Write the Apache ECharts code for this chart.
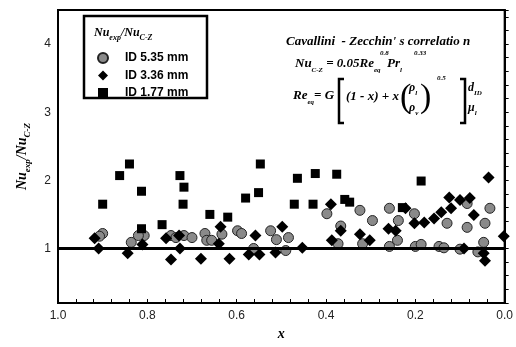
<!DOCTYPE html>
<html>
<head>
<meta charset="utf-8">
<script src="https://cdn.jsdelivr.net/npm/echarts@6/dist/echarts.min.js"></script>
<style>
html, body { margin: 0; padding: 0; background: #fff; }
#chart { width: 516px; height: 347px; }
</style>
</head>
<body>
<div id="chart"></div>
<script>
// vapour quality x vs Nu_exp / Nu_C-Z
const seriesNames = ['ID 5.35 mm', 'ID 3.36 mm', 'ID 1.77 mm'];

const circleData = [
  [0.90, 1.22], [0.907, 1.18], [0.836, 1.09], [0.807, 1.19], [0.82, 1.19], [0.747, 1.19],
  [0.736, 1.16], [0.718, 1.19], [0.70, 1.16], [0.671, 1.22], [0.667, 1.12], [0.656, 1.12],
  [0.633, 1.21], [0.598, 1.26], [0.589, 1.22], [0.562, 1.00], [0.524, 1.26], [0.511, 1.13],
  [0.49, 0.97], [0.484, 1.16], [0.398, 1.51], [0.367, 1.33], [0.373, 1.07], [0.324, 1.56],
  [0.318, 1.07], [0.296, 1.41], [0.258, 1.59], [0.258, 1.03], [0.24, 1.12], [0.238, 1.41],
  [0.202, 1.51], [0.20, 1.03], [0.187, 1.06], [0.147, 1.03], [0.136, 1.01], [0.129, 1.37],
  [0.10, 0.99], [0.084, 1.31], [0.084, 1.66], [0.06, 0.95], [0.047, 1.09], [0.044, 1.37],
  [0.033, 1.59]
];

const diamondData = [
  [0.918, 1.15], [0.909, 1.00], [0.844, 0.93], [0.811, 1.06], [0.758, 1.15], [0.727, 1.00],
  [0.747, 0.84], [0.729, 1.19], [0.68, 0.85], [0.636, 1.32], [0.64, 1.07], [0.616, 0.85],
  [0.558, 1.19], [0.573, 0.91], [0.549, 0.91], [0.513, 0.94], [0.498, 1.32], [0.453, 1.01],
  [0.389, 1.65], [0.367, 1.26], [0.387, 1.12], [0.324, 1.21], [0.302, 1.12], [0.26, 1.29],
  [0.244, 1.26], [0.222, 1.59], [0.202, 1.37], [0.18, 1.38], [0.158, 1.44], [0.142, 1.53],
  [0.124, 1.75], [0.12, 1.59], [0.10, 1.71], [0.078, 1.74], [0.069, 1.49], [0.036, 2.04],
  [0.091, 1.00], [0.047, 0.93], [0.044, 0.82], [0.002, 1.18]
];

const squareData = [
  [0.84, 2.24], [0.862, 2.07], [0.90, 1.65], [0.813, 1.84], [0.813, 1.29], [0.767, 1.35],
  [0.727, 2.07], [0.718, 1.90], [0.72, 1.65], [0.66, 1.50], [0.62, 1.46], [0.547, 2.24],
  [0.551, 1.82], [0.58, 1.74], [0.464, 2.03], [0.424, 2.10], [0.376, 2.09], [0.471, 1.65],
  [0.429, 1.65], [0.358, 1.72], [0.347, 1.68], [0.187, 1.99], [0.229, 1.60]
];

const refLine = 1;

const serif = 'Liberation Serif';
const sans = 'Liberation Sans';

const bi = { fontFamily: serif, fontWeight: 'bold', fontStyle: 'italic', fill: '#000' };
function richSet(big, small) {
  return {
    a: { fontFamily: serif, fontWeight: 'bold', fontStyle: 'italic', fontSize: big, lineHeight: big + 6, color: '#000' },
    s: { fontFamily: serif, fontWeight: 'bold', fontStyle: 'italic', fontSize: small, lineHeight: small, verticalAlign: 'bottom', color: '#000' }
  };
}

let chart = echarts.init(document.getElementById('chart'));

let option = {
  animation: false,
  grid: {
    left: 58, right: 8, top: 10, bottom: 44,
    show: true, borderColor: '#000', borderWidth: 2, backgroundColor: 'transparent'
  },
  legend: {
    z: 20,
    orient: 'vertical',
    left: 92,
    top: 47,
    itemWidth: 10,
    itemHeight: 10,
    itemGap: 5.5,
    textStyle: { fontFamily: sans, fontWeight: 'bold', fontSize: 12, color: '#000', padding: [0, 0, 0, 12] },
    data: seriesNames
  },
  xAxis: {
    type: 'value',
    inverse: true,
    min: 0,
    max: 1,
    interval: 0.04,
    name: 'x',
    nameLocation: 'middle',
    nameGap: 24,
    nameTextStyle: { fontFamily: serif, fontWeight: 'bold', fontStyle: 'italic', fontSize: 14, color: '#000' },
    axisLine: { lineStyle: { color: '#000', width: 2 } },
    axisTick: { inside: true, length: 4, lineStyle: { color: '#000' } },
    splitLine: { show: false },
    axisLabel: {
      margin: 7,
      fontFamily: sans, fontSize: 12, color: '#222',
      formatter: function (v) {
        return Math.abs(v * 5 - Math.round(v * 5)) < 1e-6 ? v.toFixed(1) : '';
      }
    }
  },
  yAxis: {
    type: 'value',
    min: 0.2,
    max: 4.5,
    interval: 0.2,
    name: '{a|Nu}{s|exp}{a|/Nu}{s|C-Z}',
    nameLocation: 'middle',
    nameRotate: 90,
    nameGap: 26,
    nameTextStyle: { rich: richSet(14, 9) },
    axisLine: { lineStyle: { color: '#000', width: 2 } },
    axisTick: { inside: true, length: 4, lineStyle: { color: '#000' } },
    splitLine: { show: false },
    axisLabel: {
      margin: 7,
      fontFamily: sans, fontSize: 12, color: '#222',
      formatter: function (v) {
        return Math.abs(v - Math.round(v)) < 1e-6 ? String(Math.round(v)) : '';
      }
    }
  },
  graphic: [
    {
      type: 'rect', z: 1,
      shape: { x: 84, y: 16, width: 123, height: 82 },
      style: { fill: '#fff', stroke: '#000', lineWidth: 2.5 }
    },
    {
      type: 'text', z: 6,
      style: { text: '{a|Nu}{s|exp}{a|/Nu}{s|C-Z}', x: 94, y: 33, verticalAlign: 'middle', rich: richSet(12, 8) }
    },
    {
      type: 'text', z: 6,
      style: Object.assign({ text: "Cavallini  - Zecchin' s correlatio n", x: 286, y: 42, fontSize: 13, verticalAlign: 'middle' }, bi)
    },
    {
      type: 'text', z: 6,
      style: { text: '{a|Nu}{s|C-Z}{a| = 0.05Re}{s|eq}{a|  Pr}{s|l}', x: 295, y: 64, verticalAlign: 'middle', rich: richSet(13, 7) }
    },
    { type: 'text', z: 6, style: Object.assign({ text: '0.8', x: 380, y: 53, fontSize: 7, verticalAlign: 'middle' }, bi) },
    { type: 'text', z: 6, style: Object.assign({ text: '0.33', x: 414, y: 53, fontSize: 7, verticalAlign: 'middle' }, bi) },
    {
      type: 'text', z: 6,
      style: { text: '{a|Re}{s|eq}{a|= G}', x: 293, y: 96, verticalAlign: 'middle', rich: richSet(13, 7) }
    },
    { type: 'polyline', z: 6, shape: { points: [[344, 79], [339, 79], [339, 123], [344, 123]] }, style: { stroke: '#000', lineWidth: 2.5, fill: null } },
    { type: 'text', z: 6, style: Object.assign({ text: '(1 - x) + x', x: 346, y: 97, fontSize: 13, verticalAlign: 'middle' }, bi) },
    { type: 'text', z: 6, style: { text: '(', x: 400, y: 98, fontFamily: serif, fontSize: 34, verticalAlign: 'middle', fill: '#000' } },
    { type: 'text', z: 6, style: { text: '{a|ρ}{s|l}', x: 409, y: 88, verticalAlign: 'middle', rich: richSet(12, 7) } },
    { type: 'text', z: 6, style: { text: '{a|ρ}{s|v}', x: 409, y: 108, verticalAlign: 'middle', rich: richSet(12, 7) } },
    { type: 'text', z: 6, style: { text: ')', x: 420, y: 98, fontFamily: serif, fontSize: 34, verticalAlign: 'middle', fill: '#000' } },
    { type: 'text', z: 6, style: Object.assign({ text: '0.5', x: 437, y: 78, fontSize: 7, verticalAlign: 'middle' }, bi) },
    { type: 'polyline', z: 6, shape: { points: [[460, 79], [465, 79], [465, 123], [460, 123]] }, style: { stroke: '#000', lineWidth: 2.5, fill: null } },
    { type: 'text', z: 6, style: { text: '{a|d}{s|ID}', x: 468, y: 88, verticalAlign: 'middle', rich: richSet(12, 7) } },
    { type: 'text', z: 6, style: { text: '{a|μ}{s|l}', x: 468, y: 108, verticalAlign: 'middle', rich: richSet(12, 7) } }
  ],
  series: [
    {
      name: seriesNames[0],
      type: 'scatter',
      symbol: 'circle',
      symbolSize: 10,
      itemStyle: { color: '#8a8a8a', borderColor: '#222', borderWidth: 1, opacity: 1 },
      data: circleData,
      markLine: {
        silent: true,
        symbol: 'none',
        label: { show: false },
        lineStyle: { color: '#000', width: 3, type: 'solid' },
        data: [{ yAxis: refLine }]
      }
    },
    {
      name: seriesNames[1],
      type: 'scatter',
      symbol: 'diamond',
      symbolSize: 12,
      itemStyle: { color: '#000', opacity: 1 },
      data: diamondData
    },
    {
      name: seriesNames[2],
      type: 'scatter',
      symbol: 'rect',
      symbolSize: 9,
      itemStyle: { color: '#000', opacity: 1 },
      data: squareData
    }
  ]
};

chart.setOption(option);
</script>
</body>
</html>
